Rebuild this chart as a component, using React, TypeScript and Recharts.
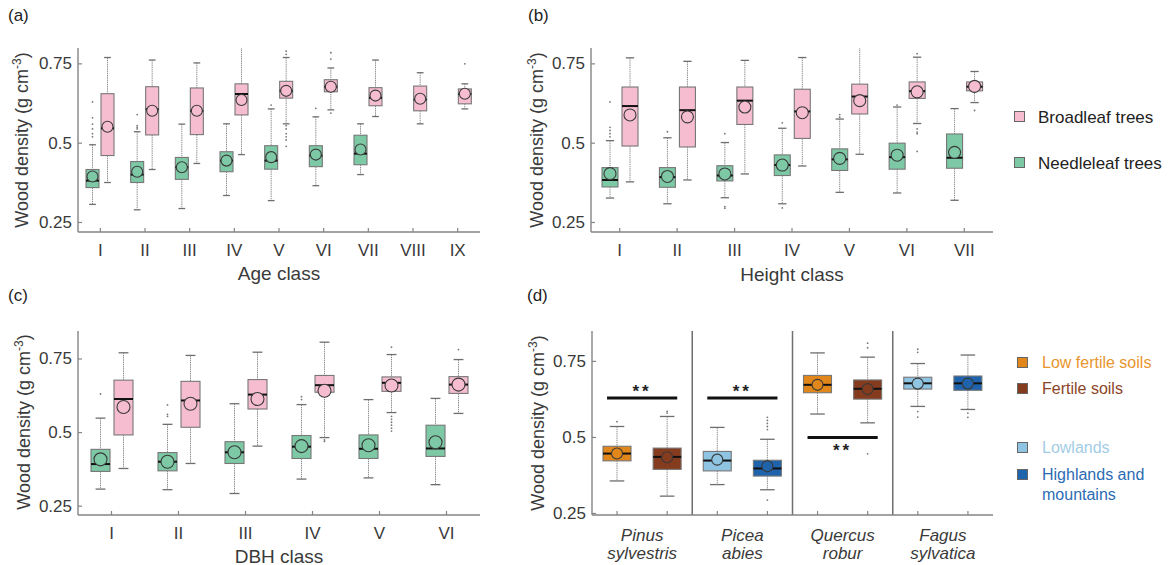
import React from 'react';
import { ComposedChart, Bar, XAxis, YAxis, ReferenceLine } from 'recharts';

const FONT = '"Liberation Sans", Arial, Helvetica, sans-serif';
const FRAME = '#858585';
const TEXT = '#3a3a3a';
const TICK_LEN = 4;

const PINK = '#F6BDD0';
const GREEN = '#7DC8A5';
const ORANGE = '#E0861A';
const BROWN = '#843B1E';
const LIGHTBLUE = '#8FC4E2';
const DARKBLUE = '#1F63AC';

// each box: [lower whisker, Q1, median, Q3, upper whisker, mean]
// (a) Age class
const ageClasses = ['I', 'II', 'III', 'IV', 'V', 'VI', 'VII', 'VIII', 'IX'];
const ageNeedle = [
  [0.307, 0.36, 0.382, 0.417, 0.495, 0.395],
  [0.29, 0.376, 0.401, 0.442, 0.536, 0.41],
  [0.294, 0.386, 0.424, 0.455, 0.56, 0.424],
  [0.335, 0.41, 0.445, 0.473, 0.561, 0.445],
  [0.319, 0.418, 0.445, 0.492, 0.608, 0.456],
  [0.366, 0.426, 0.461, 0.492, 0.583, 0.464],
  [0.401, 0.432, 0.467, 0.525, 0.561, 0.48],
  null,
  null,
];
const ageBroad = [
  [0.376, 0.461, 0.547, 0.656, 0.77, 0.552],
  [0.417, 0.526, 0.607, 0.678, 0.762, 0.602],
  [0.436, 0.527, 0.602, 0.674, 0.753, 0.602],
  [0.464, 0.589, 0.655, 0.687, 0.83, 0.636],
  [0.561, 0.642, 0.665, 0.695, 0.77, 0.665],
  [0.605, 0.662, 0.678, 0.7, 0.737, 0.678],
  [0.584, 0.618, 0.643, 0.675, 0.762, 0.65],
  [0.561, 0.602, 0.637, 0.68, 0.722, 0.64],
  [0.608, 0.624, 0.655, 0.671, 0.687, 0.656],
];
const ageNeedleOut = [[0.63, 0.58, 0.56, 0.545, 0.53, 0.52], [0.59, 0.555, 0.55, 0.545], [], [], [0.62], [0.61], [], [], []];
const ageBroadOut = [[], [], [], [], [0.79, 0.78, 0.555, 0.545, 0.53, 0.52, 0.51, 0.49], [0.785, 0.765, 0.595], [], [], [0.75]];

// (b) Height class
const heightClasses = ['I', 'II', 'III', 'IV', 'V', 'VI', 'VII'];
const heightNeedle = [
  [0.327, 0.362, 0.384, 0.423, 0.508, 0.404],
  [0.309, 0.361, 0.393, 0.423, 0.517, 0.395],
  [0.328, 0.381, 0.398, 0.429, 0.502, 0.403],
  [0.309, 0.398, 0.431, 0.463, 0.547, 0.431],
  [0.345, 0.414, 0.449, 0.482, 0.576, 0.452],
  [0.343, 0.418, 0.456, 0.5, 0.614, 0.462],
  [0.32, 0.421, 0.454, 0.529, 0.609, 0.471],
];
const heightBroad = [
  [0.378, 0.491, 0.617, 0.677, 0.769, 0.589],
  [0.384, 0.488, 0.604, 0.677, 0.758, 0.583],
  [0.403, 0.559, 0.634, 0.677, 0.761, 0.614],
  [0.428, 0.515, 0.6, 0.67, 0.77, 0.596],
  [0.465, 0.592, 0.647, 0.686, 0.83, 0.634],
  [0.562, 0.641, 0.664, 0.693, 0.771, 0.662],
  [0.628, 0.665, 0.678, 0.693, 0.726, 0.679],
];
const heightNeedleOut = [[0.63, 0.55, 0.54, 0.53, 0.52], [0.536], [0.53, 0.3, 0.295], [0.564, 0.296], [0.59, 0.582], [0.62], []];
const heightBroadOut = [[], [], [], [], [], [0.782, 0.545, 0.535, 0.53, 0.474], [0.603]];

// (c) DBH class
const dbhClasses = ['I', 'II', 'III', 'IV', 'V', 'VI'];
const dbhNeedle = [
  [0.308, 0.368, 0.393, 0.443, 0.549, 0.409],
  [0.306, 0.37, 0.401, 0.432, 0.528, 0.401],
  [0.293, 0.395, 0.433, 0.469, 0.598, 0.433],
  [0.342, 0.412, 0.452, 0.49, 0.595, 0.454],
  [0.346, 0.412, 0.445, 0.492, 0.612, 0.457],
  [0.323, 0.419, 0.446, 0.525, 0.616, 0.467],
];
const dbhBroad = [
  [0.378, 0.492, 0.614, 0.678, 0.771, 0.587],
  [0.395, 0.518, 0.609, 0.674, 0.762, 0.598],
  [0.454, 0.58, 0.629, 0.68, 0.773, 0.614],
  [0.483, 0.637, 0.661, 0.694, 0.807, 0.642],
  [0.568, 0.64, 0.669, 0.689, 0.765, 0.66],
  [0.565, 0.633, 0.663, 0.69, 0.748, 0.663],
];
const dbhNeedleOut = [[0.631], [0.594, 0.562, 0.555], [], [0.622, 0.612], [], []];
const dbhBroadOut = [[], [], [], [0.47, 0.475], [0.79, 0.555, 0.545, 0.535, 0.525, 0.515, 0.505], [0.782]];

// (d) Species
const species = [
  ['Pinus', 'sylvestris'],
  ['Picea', 'abies'],
  ['Quercus', 'robur'],
  ['Fagus', 'sylvatica'],
];
// first box: low fertile soils / lowlands ; second box: fertile soils / highlands and mountains
const speciesFirst = [
  [0.357, 0.423, 0.447, 0.471, 0.536, 0.447],
  [0.345, 0.39, 0.424, 0.454, 0.533, 0.427],
  [0.577, 0.647, 0.673, 0.704, 0.778, 0.673],
  [0.602, 0.659, 0.678, 0.698, 0.743, 0.677],
];
const speciesSecond = [
  [0.307, 0.395, 0.436, 0.465, 0.569, 0.435],
  [0.328, 0.373, 0.398, 0.425, 0.494, 0.405],
  [0.548, 0.626, 0.66, 0.689, 0.764, 0.659],
  [0.592, 0.655, 0.678, 0.702, 0.771, 0.677],
];
const speciesFirstOut = [[0.552], [], [], [0.79, 0.78, 0.585, 0.567]];
const speciesSecondOut = [[0.586, 0.58], [0.566, 0.556, 0.546, 0.536, 0.526, 0.294], [0.81, 0.795, 0.446], [0.58, 0.566]];
const speciesFirstColors = [ORANGE, LIGHTBLUE, ORANGE, LIGHTBLUE];
const speciesSecondColors = [BROWN, DARKBLUE, BROWN, DARKBLUE];
const sigValues = [0.63, 0.63, 0.5, null];
const sigBelow = [false, false, true, false];

const yTicks = [0.25, 0.5, 0.75];

function BoxGlyph(props: any) {
  const { x, y, width, height, stat, outliers, fill, r } = props;
  if (!stat || !isFinite(x) || !isFinite(y) || !isFinite(height)) return <g />;
  const [lo, q1, med, q3, hi, mean] = stat;
  const top = Math.min(y, y + height);
  const bot = Math.max(y, y + height);
  const py = (v: number) => top + ((hi - v) / (hi - lo)) * (bot - top);
  const cx = x + width / 2;
  const cap = width * 0.26;
  return (
    <g>
      <line x1={cx} x2={cx} y1={py(hi)} y2={py(q3)} stroke="#8d8d8d" strokeWidth={1} strokeDasharray="1.4 0.8" />
      <line x1={cx} x2={cx} y1={py(q1)} y2={py(lo)} stroke="#8d8d8d" strokeWidth={1} strokeDasharray="1.4 0.8" />
      <line x1={cx - cap} x2={cx + cap} y1={py(hi)} y2={py(hi)} stroke="#6e6e6e" strokeWidth={1.3} />
      <line x1={cx - cap} x2={cx + cap} y1={py(lo)} y2={py(lo)} stroke="#6e6e6e" strokeWidth={1.3} />
      <rect x={x} y={py(q3)} width={width} height={py(q1) - py(q3)} fill={fill} stroke="#777" strokeWidth={1.1} />
      <line x1={x} x2={x + width} y1={py(med)} y2={py(med)} stroke="#111" strokeWidth={2} />
      <circle cx={cx} cy={py(mean)} r={r} fill={fill} stroke="#3a3a3a" strokeWidth={1.1} />
      {(outliers || []).map((v: number, i: number) => (
        <circle key={i} cx={cx} cy={py(v)} r={0.9} fill="#777" />
      ))}
    </g>
  );
}

const BottomTick = (p: any) => (
  <g>
    <line x1={p.x} x2={p.x} y1={p.y} y2={p.y - TICK_LEN} stroke={FRAME} strokeWidth={1.2} />
    <text x={p.x} y={p.y + 18} textAnchor="middle" dominantBaseline="central" fontSize={17} fontFamily={FONT} fill={TEXT}>
      {p.payload.value}
    </text>
  </g>
);
const TopTick = (p: any) => <line x1={p.x} x2={p.x} y1={p.y} y2={p.y + TICK_LEN} stroke={FRAME} strokeWidth={1.2} />;
const LeftTick = (p: any) => (
  <g>
    <line x1={p.x} x2={p.x + TICK_LEN} y1={p.y} y2={p.y} stroke={FRAME} strokeWidth={1.2} />
    <text x={p.x - 6} y={p.y} textAnchor="end" dominantBaseline="central" fontSize={17} fontFamily={FONT} fill={TEXT}>
      {String(p.payload.value)}
    </text>
  </g>
);
const RightTick = (p: any) => <line x1={p.x} x2={p.x - TICK_LEN} y1={p.y} y2={p.y} stroke={FRAME} strokeWidth={1.2} />;

const axisLine = { stroke: FRAME, strokeWidth: 1.4 };

function ClassPanel({ left, top, height, marginBottom, rows, domain, barSize, barGap, r }: any) {
  return (
    <div style={{ position: 'absolute', left, top }}>
      <ComposedChart
        width={500}
        height={height}
        data={rows}
        margin={{ top: 48, right: 20, bottom: marginBottom, left: 0 }}
        barGap={barGap}
      >
        <XAxis dataKey="cat" xAxisId="x" height={40} tickSize={0} tickMargin={0} tickLine={false} axisLine={axisLine} tick={<BottomTick />} interval={0} />
        <XAxis dataKey="cat" xAxisId="top" orientation="top" height={0} tickSize={0} tickMargin={0} tickLine={false} axisLine={axisLine} tick={<TopTick />} interval={0} />
        <YAxis yAxisId="y" type="number" domain={domain} allowDataOverflow ticks={yTicks} width={78} tickSize={0} tickMargin={0} tickLine={false} axisLine={axisLine} tick={<LeftTick />} interval={0} />
        <YAxis yAxisId="right" orientation="right" type="number" domain={domain} allowDataOverflow ticks={yTicks} width={0} tickSize={0} tickMargin={0} tickLine={false} axisLine={axisLine} tick={<RightTick />} interval={0} />
        <Bar
          xAxisId="x"
          yAxisId="y"
          dataKey={(d: any) => (d.n ? [d.n[0], d.n[4]] : null)}
          barSize={barSize}
          isAnimationActive={false}
          shape={(p: any) => <BoxGlyph {...p} stat={p.payload.n} outliers={p.payload.nOut} fill={GREEN} r={r} />}
        />
        <Bar
          xAxisId="x"
          yAxisId="y"
          dataKey={(d: any) => (d.b ? [d.b[0], d.b[4]] : null)}
          barSize={barSize}
          isAnimationActive={false}
          shape={(p: any) => <BoxGlyph {...p} stat={p.payload.b} outliers={p.payload.bOut} fill={PINK} r={r} />}
        />
      </ComposedChart>
    </div>
  );
}

const makeRows = (cats: string[], n: any[], b: any[], nOut: number[][], bOut: number[][]) =>
  cats.map((c, i) => ({ cat: c, n: n[i], b: b[i], nOut: nOut[i], bOut: bOut[i] }));

const ageRows = makeRows(ageClasses, ageNeedle, ageBroad, ageNeedleOut, ageBroadOut);
const heightRows = makeRows(heightClasses, heightNeedle, heightBroad, heightNeedleOut, heightBroadOut);
const dbhRows = makeRows(dbhClasses, dbhNeedle, dbhBroad, dbhNeedleOut, dbhBroadOut);

// one row per box (two boxes per species)
const speciesRows = species.flatMap((s, i) => [
  { key: `${i}-a`, group: i, first: true, stat: speciesFirst[i], out: speciesFirstOut[i], color: speciesFirstColors[i] },
  { key: `${i}-b`, group: i, first: false, stat: speciesSecond[i], out: speciesSecondOut[i], color: speciesSecondColors[i] },
]);

const SpeciesTick = (p: any) => {
  const row = speciesRows[p.index] || speciesRows.find((r) => r.key === p.payload.value);
  const half = typeof p.payload.offset === 'number' && p.payload.offset > 0 ? p.payload.offset : 25;
  return (
    <g>
      <line x1={p.x} x2={p.x} y1={p.y} y2={p.y - TICK_LEN} stroke={FRAME} strokeWidth={1.2} />
      {row && row.first ? (
        <text textAnchor="middle" fontStyle="italic" fontSize={17} fontFamily={FONT} fill={TEXT}>
          <tspan x={p.x + half} y={p.y + 26}>{species[row.group][0]}</tspan>
          <tspan x={p.x + half} y={p.y + 44}>{species[row.group][1]}</tspan>
        </text>
      ) : null}
    </g>
  );
};

const SigShape = (p: any) => {
  const { x1, x2, y1, y2 } = p;
  if (![x1, x2, y1, y2].every((v) => typeof v === 'number' && isFinite(v))) return <g />;
  const ext = Math.abs(x2 - x1) * 0.2;
  return <line x1={Math.min(x1, x2) - ext} x2={Math.max(x1, x2) + ext} y1={y1} y2={y2} stroke="#111" strokeWidth={3} />;
};

function SpeciesPanel() {
  const domain = [0.245, 0.85];
  return (
    <div style={{ position: 'absolute', left: 514, top: 283 }}>
      <ComposedChart width={500} height={282} data={speciesRows} margin={{ top: 48, right: 21, bottom: 0, left: 0 }}>
        <XAxis dataKey="key" xAxisId="x" height={50} tickSize={0} tickMargin={0} tickLine={false} axisLine={axisLine} tick={<SpeciesTick />} interval={0} />
        <XAxis dataKey="key" xAxisId="top" orientation="top" height={0} tickSize={0} tickMargin={0} tickLine={false} axisLine={axisLine} tick={<TopTick />} interval={0} />
        <YAxis yAxisId="y" type="number" domain={domain} allowDataOverflow ticks={yTicks} width={78} tickSize={0} tickMargin={0} tickLine={false} axisLine={axisLine} tick={<LeftTick />} interval={0} />
        <YAxis yAxisId="right" orientation="right" type="number" domain={domain} allowDataOverflow ticks={yTicks} width={0} tickSize={0} tickMargin={0} tickLine={false} axisLine={axisLine} tick={<RightTick />} interval={0} />
        {species.slice(1).map((_, i) => (
          <ReferenceLine
            key={'sep' + i}
            xAxisId="x"
            yAxisId="y"
            x={speciesRows[(i + 1) * 2].key}
            position="start"
            stroke="#6f6f6f"
            strokeWidth={1.5}
          />
        ))}
        {sigValues.map((v, i) =>
          v == null ? null : (
            <ReferenceLine
              key={'sig' + i}
              xAxisId="x"
              yAxisId="y"
              segment={[
                { x: speciesRows[i * 2].key, y: v },
                { x: speciesRows[i * 2 + 1].key, y: v },
              ]}
              shape={SigShape}
              label={{
                value: '**',
                position: sigBelow[i] ? 'bottom' : 'top',
                offset: sigBelow[i] ? 6 : 1,
                fill: '#222',
                fontSize: 17,
                fontWeight: 'bold',
                fontFamily: FONT,
                letterSpacing: 3,
              }}
            />
          )
        )}
        <Bar
          xAxisId="x"
          yAxisId="y"
          dataKey={(d: any) => [d.stat[0], d.stat[4]]}
          barSize={28}
          isAnimationActive={false}
          shape={(p: any) => <BoxGlyph {...p} stat={p.payload.stat} outliers={p.payload.out} fill={p.payload.color} r={5.5} />}
        />
      </ComposedChart>
    </div>
  );
}

const txt = (s: any): React.CSSProperties => ({
  position: 'absolute',
  fontFamily: FONT,
  color: TEXT,
  whiteSpace: 'nowrap',
  lineHeight: 1,
  ...s,
});

function YTitle({ x, y }: { x: number; y: number }) {
  return (
    <div style={txt({ left: x, top: y, fontSize: 18, transform: 'translate(-50%, -50%) rotate(-90deg)' })}>
      Wood density (g cm<sup style={{ fontSize: 12, verticalAlign: 'super', lineHeight: 0 }}>-3</sup>)
    </div>
  );
}

function Centered({ x, y, size, children }: any) {
  return <div style={txt({ left: x, top: y, fontSize: size, transform: 'translate(-50%, -50%)' })}>{children}</div>;
}

function LegendItem({ x, y, color, label, textColor, size, textX }: any) {
  return (
    <>
      <div style={{ position: 'absolute', left: x, top: y - 6, width: 11, height: 11, background: color, border: '1px solid #666', boxSizing: 'border-box' }} />
      <div style={txt({ left: textX, top: y, fontSize: size, color: textColor, transform: 'translateY(-50%)' })}>{label}</div>
    </>
  );
}

export default function App() {
  return (
    <div style={{ position: 'absolute', left: 0, top: 0, width: 1169, height: 565, background: '#fff', overflow: 'hidden' }}>
      <ClassPanel left={0} top={0} height={290} marginBottom={18} rows={ageRows} domain={[0.22, 0.8]} barSize={13} barGap={2} r={5.5} />
      <ClassPanel left={513} top={0} height={290} marginBottom={18} rows={heightRows} domain={[0.22, 0.8]} barSize={16} barGap={4} r={6} />
      <ClassPanel left={0} top={283} height={282} marginBottom={10} rows={dbhRows} domain={[0.22, 0.845]} barSize={19} barGap={4} r={6.5} />
      <SpeciesPanel />

      <div style={txt({ left: 8, top: 7, fontSize: 17, color: '#222' })}>(a)</div>
      <div style={txt({ left: 528, top: 7, fontSize: 17, color: '#222' })}>(b)</div>
      <div style={txt({ left: 8, top: 287, fontSize: 17, color: '#222' })}>(c)</div>
      <div style={txt({ left: 527, top: 287, fontSize: 17, color: '#222' })}>(d)</div>

      <Centered x={279} y={273} size={19}>Age class</Centered>
      <Centered x={792} y={274} size={19}>Height class</Centered>
      <Centered x={279} y={556} size={19}>DBH class</Centered>

      <YTitle x={22} y={140} />
      <YTitle x={537} y={140} />
      <YTitle x={24} y={422} />
      <YTitle x={538} y={423} />

      <LegendItem x={1014} y={117} color={PINK} label="Broadleaf trees" textColor="#222" size={17} textX={1038} />
      <LegendItem x={1014} y={163} color={GREEN} label="Needleleaf trees" textColor="#222" size={17} textX={1038} />

      <LegendItem x={1017} y={363} color={ORANGE} label="Low fertile soils" textColor="#E8952E" size={16} textX={1042} />
      <LegendItem x={1017} y={389} color={BROWN} label="Fertile soils" textColor="#8B4528" size={16} textX={1042} />
      <LegendItem x={1017} y={448} color={LIGHTBLUE} label="Lowlands" textColor="#A3CCE5" size={16} textX={1042} />
      <LegendItem x={1017} y={475} color={DARKBLUE} label="Highlands and" textColor="#2B6CB3" size={16} textX={1042} />
      <div style={txt({ left: 1042, top: 495, fontSize: 16, color: '#2B6CB3', transform: 'translateY(-50%)' })}>mountains</div>
    </div>
  );
}
